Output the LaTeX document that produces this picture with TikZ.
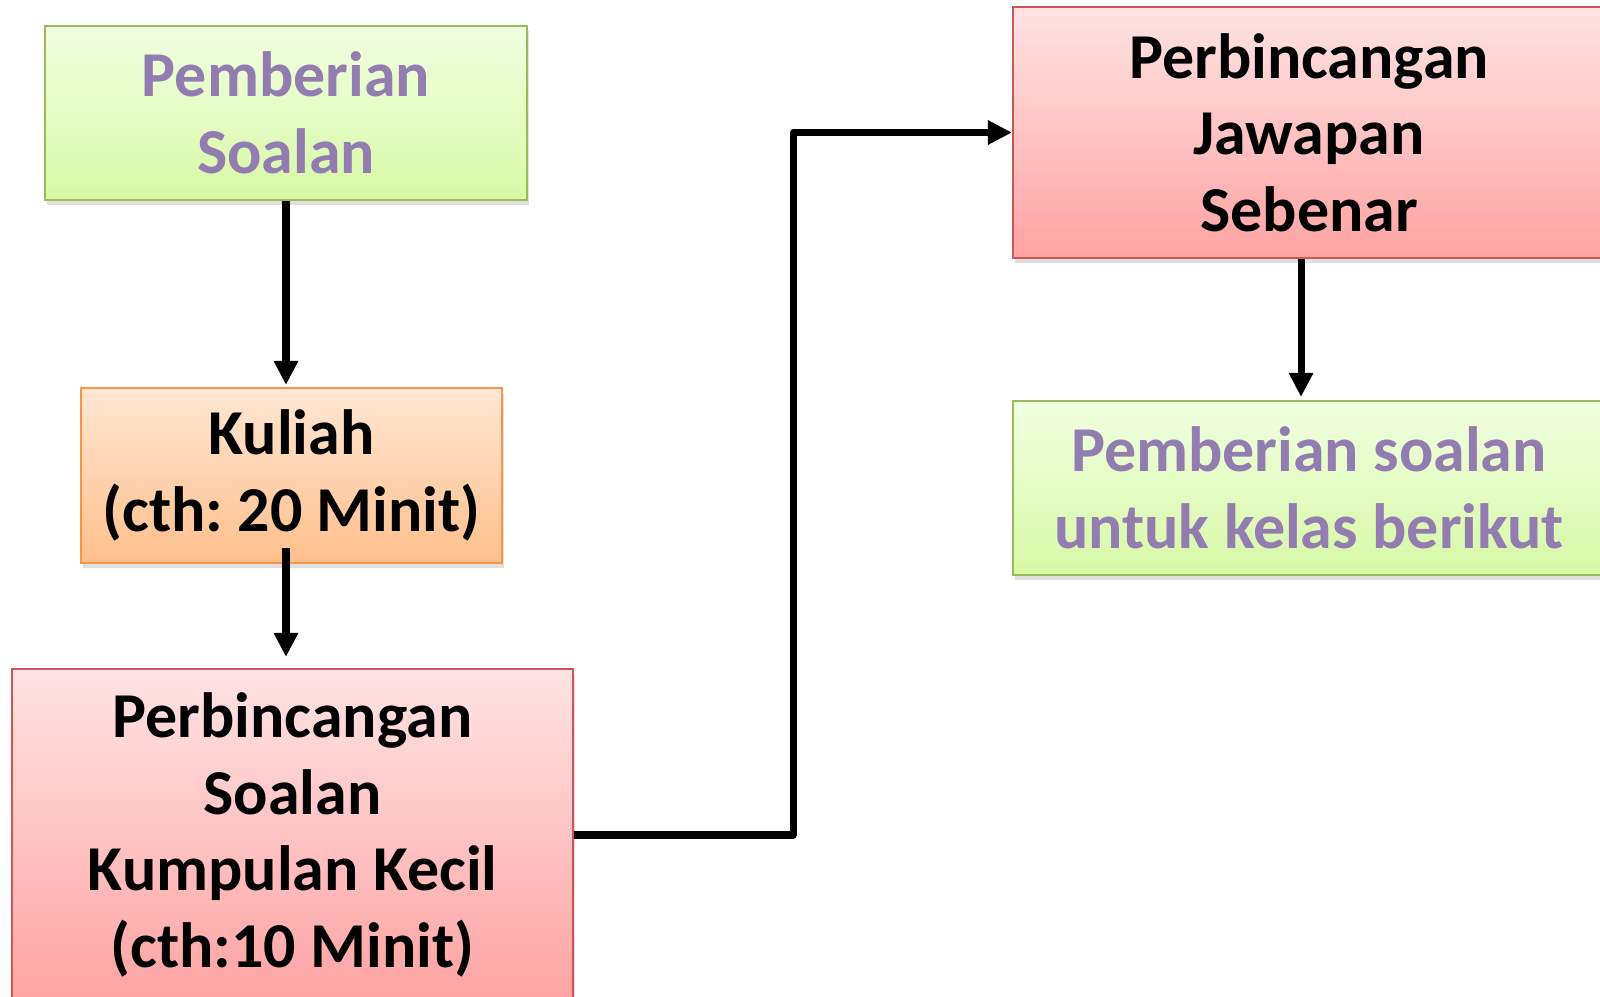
\documentclass[tikz,border=0pt]{standalone}
\usepackage{fontspec}
\setmainfont{Carlito}
\usetikzlibrary{arrows.meta,shadows}

\definecolor{textviolet}{HTML}{937CB0}
\definecolor{greenline}{HTML}{9BBB59}
\definecolor{greentop}{HTML}{F1FFE1}
\definecolor{greenbot}{HTML}{D7F8A6}
\definecolor{orangeline}{HTML}{F79646}
\definecolor{orangetop}{HTML}{FFE7D3}
\definecolor{orangebot}{HTML}{FFBF8B}
\definecolor{redline}{HTML}{CF5654}
\definecolor{redtop}{HTML}{FFE3E3}
\definecolor{redbot}{HTML}{FFA3A3}

\tikzset{
    box/.style={draw, line width=0.6pt, align=center, inner sep=0pt,
        font=\bfseries\fontsize{18.2}{21.8}\selectfont\frenchspacing,
        drop shadow={shadow xshift=0.02cm, shadow yshift=-0.05cm, opacity=0.25}},
    greenbox/.style={box, draw=greenline, top color=greentop, bottom color=greenbot, text=textviolet},
    orangebox/.style={box, draw=orangeline, top color=orangetop, bottom color=orangebot},
    redbox/.style={box, draw=redline, top color=redtop, bottom color=redbot},
    flow/.style={line width=2pt, line join=round, -{Triangle[length=0.24cm,width=0.23cm]}}
}

\begin{document}
\begin{tikzpicture}
    \useasboundingbox (0,0) rectangle (16,-9.96);
    %left column
    \node[greenbox, minimum width=4.82cm, minimum height=1.74cm] (soalan) at (2.86,-1.13) {Pemberian\\Soalan};
    \node[orangebox, minimum width=4.21cm, minimum height=1.75cm] (kuliah) at (2.915,-4.755) {Kuliah\\(cth: 20 Minit)};
    \node[redbox, minimum width=5.61cm, minimum height=3.32cm] (kecil) at (2.925,-8.35) {Perbincangan\\Soalan\\Kumpulan Kecil\\(cth:10 Minit)};
    %right column
    \node[redbox, minimum width=5.92cm, minimum height=2.51cm] (jawapan) at (13.09,-1.325) {Perbincangan\\Jawapan\\Sebenar};
    \node[greenbox, minimum width=5.92cm, minimum height=1.74cm] (berikut) at (13.09,-4.88) {Pemberian soalan\\untuk kelas berikut};

    \draw[flow] (soalan) -- ([yshift=0.02cm]soalan |- kuliah.north);
    \draw[flow] ([yshift=0.16cm]soalan |- kuliah.south) -- ([yshift=0.11cm]soalan |- kecil.north);
    \draw[flow] (kecil.east) -- ++(2.19,0) |- (jawapan.west);
    \draw[flow] ([xshift=-0.08cm]jawapan.south) -- ([xshift=-0.08cm,yshift=0.03cm]berikut.north);
    
\end{tikzpicture}
\end{document}
